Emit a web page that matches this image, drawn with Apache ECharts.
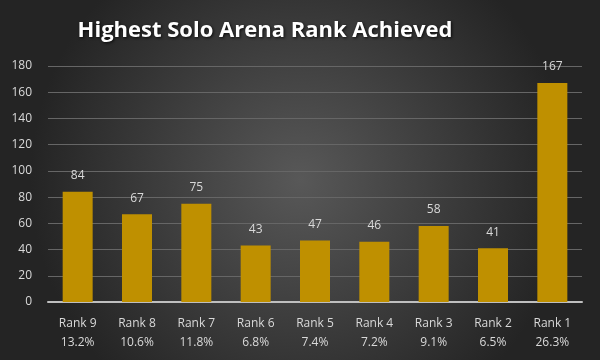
<!DOCTYPE html>
<html><head><meta charset="utf-8">
<script src="https://cdn.jsdelivr.net/npm/echarts@6/dist/echarts.min.js"></script>
<style>html,body{margin:0;padding:0;}#c{width:600px;height:360px;}</style>
</head><body><div id="c"></div>
<script>
const categories = ['Rank 9','Rank 8','Rank 7','Rank 6','Rank 5','Rank 4','Rank 3','Rank 2','Rank 1'];
const counts = [84, 67, 75, 43, 47, 46, 58, 41, 167];
const percents = ['13.2%','10.6%','11.8%','6.8%','7.4%','7.2%','9.1%','6.5%','26.3%'];
const yTicks = [0,20,40,60,80,100,120,140,160,180];

const chart = echarts.init(document.getElementById('c'));
const font = '"Open Sans", "Noto Sans", sans-serif';
chart.setOption({
  animation: false,
  backgroundColor: {
    type: 'radial', x: 0.5, y: 0.5, r: 0.75,
    colorStops: [{offset: 0, color: '#585858'}, {offset: 1, color: '#242424'}]
  },
  title: {
    text: 'Highest Solo Arena Rank Achieved',
    left: 260, textAlign: 'center', top: 15,
    textStyle: {
      color: '#ffffff', fontSize: 22, fontWeight: 'bold', fontFamily: font,
      textShadowColor: 'rgba(0,0,0,0.8)', textShadowBlur: 3, textShadowOffsetX: 1, textShadowOffsetY: 1
    }
  },
  grid: {left: 48, right: 18, top: 66, bottom: 58, containLabel: false},
  xAxis: {
    type: 'category',
    data: categories.map((c, i) => c + '\n' + percents[i]),
    axisLine: {lineStyle: {color: '#bfbfbf', width: 2}},
    axisTick: {show: false},
    axisLabel: {color: '#d9d9d9', fontSize: 12, fontFamily: font, lineHeight: 19, margin: 12}
  },
  yAxis: {
    type: 'value', min: yTicks[0], max: yTicks[yTicks.length-1], interval: 20,
    axisLine: {show: false}, axisTick: {show: false},
    splitLine: {lineStyle: {color: '#666666', width: 1}},
    axisLabel: {color: '#d9d9d9', fontSize: 12, fontFamily: font, margin: 16}
  },
  series: [{
    type: 'bar',
    data: counts,
    barWidth: 30,
    itemStyle: {color: '#BF9000'},
    label: {show: true, position: 'top', distance: 10, color: '#d9d9d9', fontSize: 12, fontFamily: font}
  }]
});
</script></body></html>
